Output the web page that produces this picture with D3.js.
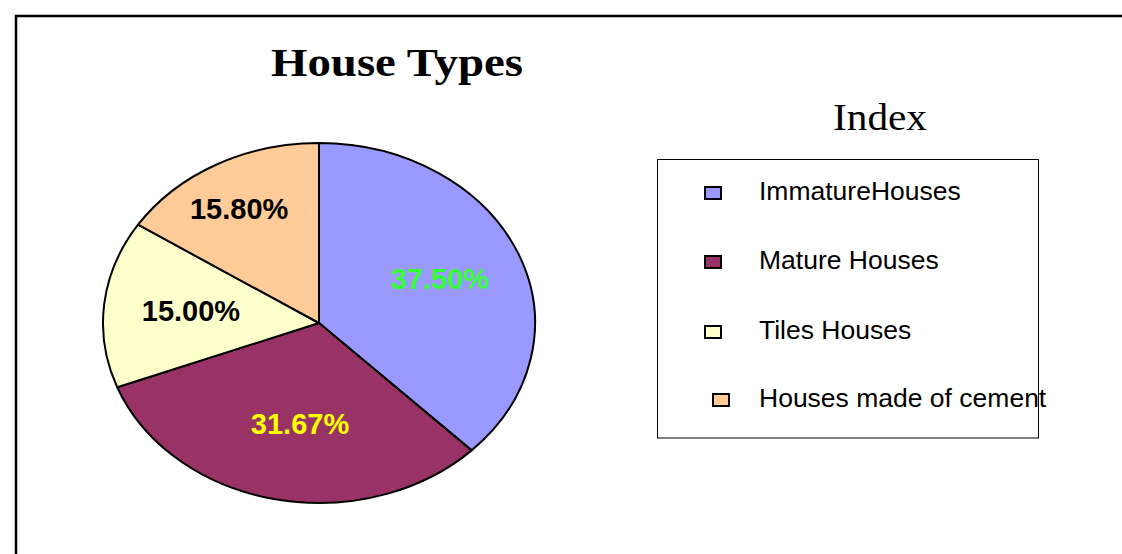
<!DOCTYPE html>
<html><head><meta charset="utf-8">
<script src="https://cdn.jsdelivr.net/npm/d3@7"></script>
<style>body{margin:0;background:#fff}svg{display:block}</style>
</head><body>
<script>
const categories = ["ImmatureHouses", "Mature Houses", "Tiles Houses", "Houses made of cement"];
const values = [37.50, 31.67, 15.00, 15.80];
const labels = ["37.50%", "31.67%", "15.00%", "15.80%"];
const colors = ["#9999FF", "#993366", "#FFFFCC", "#FFCC99"];
const labelColors = ["#33FF33", "#FFFF00", "#000000", "#000000"];

const W = 1122, H = 554;
const svg = d3.select("body").append("svg").attr("width", W).attr("height", H);

// frame
svg.append("path").attr("d", `M16,${H+5}V16H${W+5}`).attr("fill","none").attr("stroke","#000").attr("stroke-width",2.5);

// title
svg.append("text").attr("x", 271).attr("y", 76)
  .attr("font-family","'Liberation Serif', 'DejaVu Serif', serif").attr("font-weight","bold")
  .attr("font-size", 39).attr("textLength", 252).attr("lengthAdjust","spacingAndGlyphs").text("House Types");

// pie
const cx = 319, cy = 323, rx = 216, ry = 180, R = 100;
const pie = d3.pie().sort(null).value(d => d)(values);
const arc = d3.arc().innerRadius(0).outerRadius(R);
const g = svg.append("g").attr("transform", `translate(${cx},${cy}) scale(${rx/R},${ry/R})`);
g.selectAll("path").data(pie).enter().append("path")
  .attr("d", arc).attr("fill", (d,i) => colors[i])
  .attr("stroke", "#000").attr("stroke-width", 2).attr("vector-effect","non-scaling-stroke")
  .attr("stroke-linejoin","round");

// labels (radial placement factors per slice)
const kx = [0.606, 0.42, 0.596, 0.776];
const ky = [0.64, 0.57, 0.66, 0.724];
svg.append("g").selectAll("text").data(pie).enter().append("text")
  .attr("x", (d,i) => { const a=(d.startAngle+d.endAngle)/2; return cx + Math.sin(a)*rx*kx[i]; })
  .attr("y", (d,i) => { const a=(d.startAngle+d.endAngle)/2; return cy - Math.cos(a)*ry*ky[i] + 10.5; })
  .attr("text-anchor","middle")
  .attr("font-family","'Liberation Sans', Arial, sans-serif").attr("font-weight","bold")
  .attr("font-size", 29).attr("fill", (d,i) => labelColors[i])
  .text((d,i) => labels[i]);

// legend title
svg.append("text").attr("x", 833).attr("y", 130)
  .attr("font-family","'Liberation Serif', 'DejaVu Serif', serif")
  .attr("font-size", 37).attr("textLength", 94).attr("lengthAdjust","spacingAndGlyphs").text("Index");

// legend box
svg.append("rect").attr("x", 657.5).attr("y", 159.5).attr("width", 381).attr("height", 278.5)
  .attr("fill","none").attr("stroke","#000").attr("stroke-width",1);

const rowY = [200, 269, 339, 407];
const sqX = [705, 705, 705, 713];
const leg = svg.append("g").selectAll("g").data(categories).enter().append("g");
leg.append("rect").attr("x", (d,i)=>sqX[i]).attr("y", (d,i)=>rowY[i]-13).attr("width",16).attr("height",12)
  .attr("fill", (d,i)=>colors[i]).attr("stroke","#000").attr("stroke-width",2);
leg.append("text").attr("x", 759).attr("y", (d,i)=>rowY[i])
  .attr("font-family","'Liberation Sans', Arial, sans-serif").attr("font-size", 26.5)
  .text(d=>d);
</script>
</body></html>
